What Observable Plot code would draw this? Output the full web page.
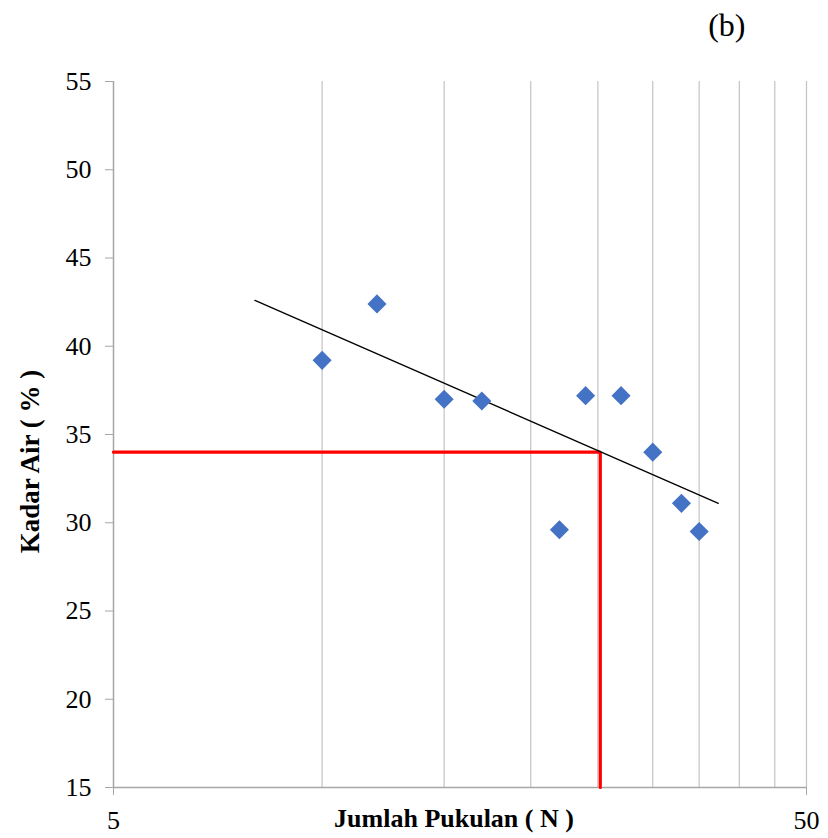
<!DOCTYPE html>
<html>
<head>
<meta charset="utf-8">
<script src="https://cdn.jsdelivr.net/npm/d3@7"></script>
<script src="https://cdn.jsdelivr.net/npm/@observablehq/plot@0.6"></script>
<style>
  html, body { margin: 0; padding: 0; background: #fff; }
  #chart svg { display: block; }
  #chart svg text { font-family: 'Liberation Serif', 'Times New Roman', serif !important; }
</style>
</head>
<body>
<div id="chart"></div>
<script>
// Data
const pukulan = [10, 12, 15, 17, 22, 24, 27, 30, 33, 35];          // Jumlah Pukulan (N)
const kadarAir = [39.2, 42.4, 37.0, 36.9, 29.6, 37.2, 37.2, 34.0, 31.1, 29.5]; // Kadar Air (%)
const trendN = [8, 37.3];        // trendline end points (N)
const trendW = [42.6, 31.1];     // trendline end points (%)
const refN = 25.2;               // red reference line position (N ≈ 25)
const refW = 34;                 // red reference: water content
const xDomain = [5, 50];
const yDomain = [15, 55];
const xGrid = [10, 15, 20, 25, 30, 35, 40, 45, 50];
const xTicks = [5, 50];
const yTicks = [15, 20, 25, 30, 35, 40, 45, 50, 55];
const panelLabel = "(b)";
const xTitle = "Jumlah Pukulan ( N )";
const yTitle = "Kadar Air ( % )";

const points = pukulan.map((n, i) => ({n, w: kadarAir[i]}));
const trend = trendN.map((n, i) => ({n, w: trendW[i]}));
const refLine = [
  {n: xDomain[0], w: refW},
  {n: refN, w: refW},
  {n: refN, w: yDomain[0]}
];

const serif = "Liberation Serif, Times New Roman, serif";

const chart = Plot.plot({
  width: 828,
  height: 838,
  marginLeft: 113,
  marginRight: 22,
  marginTop: 81,
  marginBottom: 51,
  style: {fontFamily: serif, background: "#fff", color: "#000"},
  x: {type: "log", domain: xDomain},
  y: {domain: yDomain},
  marks: [
    Plot.ruleX(xGrid, {stroke: "#c3c3c3", strokeWidth: 1.2}),
    Plot.ruleX([xDomain[0]], {stroke: "#a6a6a6", strokeWidth: 1.5}),
    Plot.ruleY([yDomain[0]], {stroke: "#a6a6a6", strokeWidth: 1.5}),
    Plot.axisY({
      ticks: yTicks, tickSize: 8, tickPadding: 14, fontSize: 26, fontFamily: serif, fontVariant: "normal",
      stroke: "#a6a6a6", fill: "#000", label: null
    }),
    Plot.axisX({
      ticks: xTicks, tickSize: 8, tickPadding: 15, fontSize: 26, fontFamily: serif, fontVariant: "normal",
      tickFormat: d => String(d), stroke: "#a6a6a6", fill: "#000", label: null
    }),
    Plot.line(refLine, {x: "n", y: "w", stroke: "#ff0000", strokeWidth: 3.2, strokeLinejoin: "miter"}),
    Plot.line(trend, {x: "n", y: "w", stroke: "#000", strokeWidth: 1.3}),
    Plot.dot(points, {x: "n", y: "w", symbol: "diamond2", r: 8.6, fill: "#4472c4", stroke: "none"}),
    Plot.text([panelLabel], {frameAnchor: "top-right", dx: -61, dy: -68, fontSize: 32, fontFamily: serif, fill: "#000"}),
    Plot.text([xTitle], {frameAnchor: "bottom", dx: -6, dy: 39, fontSize: 26, fontFamily: serif, fontWeight: "bold", fill: "#000"}),
    Plot.text([yTitle], {frameAnchor: "left", textAnchor: "middle", rotate: -90, dx: -83, dy: 27, fontSize: 27, fontFamily: serif, fontWeight: "bold", fill: "#000"})
  ]
});
document.getElementById("chart").appendChild(chart);
</script>
</body>
</html>
